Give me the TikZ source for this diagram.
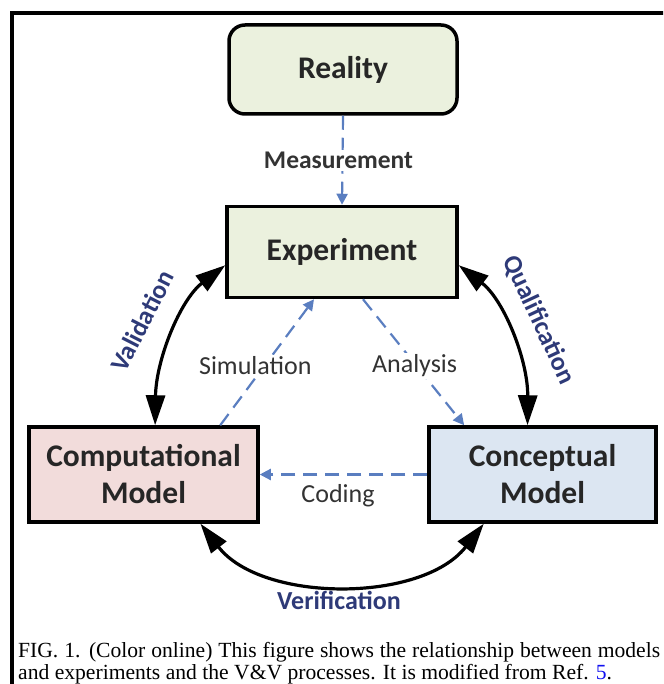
\documentclass[tikz,border=0pt]{standalone}
\usepackage{fontspec}
\setmainfont{Carlito}
\newfontfamily\capfont{Liberation Serif}
\usetikzlibrary{arrows.meta,calc}
\definecolor{boxgreen}{HTML}{EBF1DE}
\definecolor{boxpink}{HTML}{F2DCDB}
\definecolor{boxblue}{HTML}{DCE6F2}
\definecolor{dashblue}{HTML}{5A7EC0}
\definecolor{navy}{HTML}{2E3A78}
\definecolor{txtgray}{HTML}{262626}
\definecolor{lblgray}{HTML}{333333}
\definecolor{linkblue}{HTML}{1010F0}
\begin{document}
\begin{tikzpicture}[x=1pt,y=-1pt,
  box/.style={draw=black,line width=3.5pt,fill=#1,minimum width=229pt,minimum height=93pt,
    inner sep=0pt,font=\fontsize{31.5}{37}\selectfont\bfseries,text=txtgray,align=center},
  dasharrow/.style={draw=dashblue,line width=2.2pt,dash pattern=on 14pt off 8pt,
    -{Triangle[length=11pt,width=11pt]}},
  vv/.style={line width=3.2pt,{Triangle[length=30pt,width=19pt]}-{Triangle[length=30pt,width=19pt]}},
  vvlabel/.style={font=\fontsize{26}{30}\selectfont\bfseries,text=navy,inner sep=0pt},
  lbl/.style={font=\fontsize{26}{30}\selectfont,text=lblgray,fill=white,inner sep=2pt},
  mlbl/.style={font=\fontsize{25.5}{30}\selectfont\bfseries,text=lblgray,fill=white,inner sep=2pt},
  captext/.style={font=\capfont\fontsize{21.6}{26}\selectfont,text=black,inner sep=0pt,anchor=base west}
]
\useasboundingbox (0,0) rectangle (663,684);
\clip (0,0) rectangle (663,684);
\draw[line width=4pt] (12,700) -- (12,13) -- (700,13);

\node[box=boxgreen,rounded corners=16pt,minimum width=228pt,minimum height=89pt] (real) at (343,69.5) {Reality};
\node[box=boxgreen,minimum width=230pt,minimum height=91pt] (exp) at (342,252) {Experiment};
\node[box=boxpink,minimum width=229pt,minimum height=95pt] (comp) at (143.5,474.5) {Computational\\Model};
\node[box=boxblue,minimum width=227pt,minimum height=95pt] (conc) at (542.5,474.5) {Conceptual\\Model};

% Measurement
\draw[dasharrow] (real.south) -- node[mlbl,xshift=-4pt] {Measurement} (exp.north);

% Simulation
\draw[dasharrow] ($(comp.north west)!0.83!(comp.north east)$) -- node[lbl,pos=0.47,xshift=-9pt] {Simulation} ($(exp.south west)!0.38!(exp.south east)$);
% Analysis
\draw[dasharrow] ($(exp.south west)!0.59!(exp.south east)$) -- node[lbl,pos=0.53,xshift=-2pt] {Analysis} ($(conc.north west)!0.16!(conc.north east)$);
% Coding
\draw[dasharrow] (conc.west) -- (comp.west -| comp.east);
\node[font=\fontsize{26}{30}\selectfont,text=lblgray,inner sep=0pt] (codl) at (338,496) {Coding};

% V&V arrows
\coordinate (vs) at ($(exp.north west)!0.64!(exp.south west)$);
\coordinate (ve) at ($(comp.north west)!0.55!(comp.north east)$);
\draw[vv] (vs) .. controls (180,300) and (156,360) .. (ve);
\coordinate (qs) at ($(exp.north east)!0.64!(exp.south east)$);
\coordinate (qe) at ($(conc.north west)!0.435!(conc.north east)$);
\draw[vv] (qs) .. controls (504,300) and (528,360) .. (qe);
\coordinate (fs) at ($(comp.south west)!0.745!(comp.south east)$);
\coordinate (fe) at ($(conc.south west)!0.245!(conc.south east)$);
\draw[vv] (fs) .. controls (262,603) and (422,603) .. (fe);

\node[vvlabel,rotate=63] (vlab) at (142,321) {Validation};
\node[vvlabel,rotate=-65] (qlab) at (539,320) {Qualification};
\node[vvlabel] (flab) at (339,600) {Verification};

\node[captext] (c1) at (18,657) {\hbox to 642pt{FIG. 1. (Color online) This figure shows the relationship between models}};
\node[captext] (c2) at (18,679) {and experiments and the V\&V processes. It is modified from Ref. \textcolor{linkblue}{5}.};
\end{tikzpicture}
\end{document}
